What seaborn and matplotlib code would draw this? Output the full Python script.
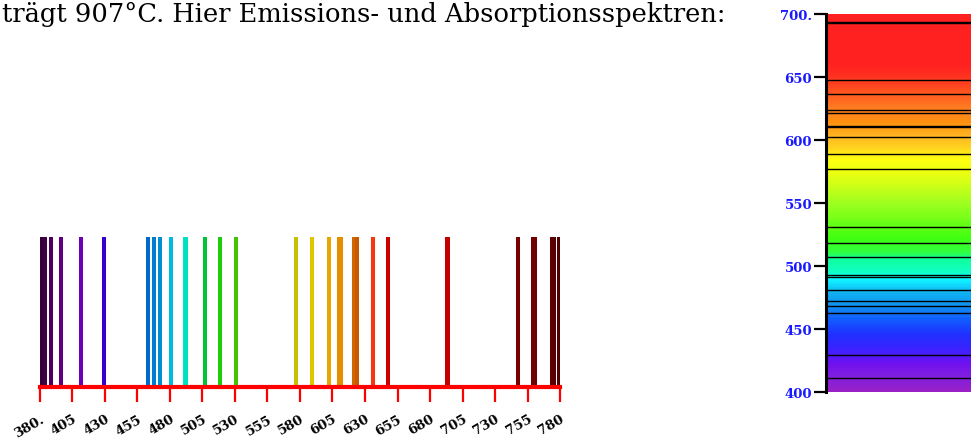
import numpy as np
import pandas as pd
import seaborn as sns
import matplotlib.pyplot as plt
from matplotlib.colors import LinearSegmentedColormap

# spectral lines (nm)
emission_nm = [380.5, 384.0, 388.2, 396.4, 411.3, 429.5, 462.9, 467.9, 472.1, 481.0,
               491.3, 492.6, 506.9, 518.2, 530.8, 577.3, 589.2, 602.1, 610.0, 611.2,
               621.5, 623.8, 636.3, 647.7, 692.8, 693.9, 747.7, 759.2, 760.6, 773.6,
               775.0, 779.0]
x_ticks = [380, 405, 430, 455, 480, 505, 530, 555, 580, 605, 630, 655, 680, 705, 730, 755, 780]
x_labels = ["380.", "405", "430", "455", "480", "505", "530", "555", "580", "605",
            "630", "655", "680", "705", "730", "755", "780"]
y_ticks = [400, 450, 500, 550, 600, 650, 700]
y_labels = ["400", "450", "500", "550", "600", "650", "700."]
title = "trägt 907°C. Hier Emissions- und Absorptionsspektren:"

# colour scales for the two spectra
line_anchors = [(380, "#380038"), (400, "#680090"), (415, "#7000c0"), (430, "#3000d0"),
                (455, "#0050c0"), (465, "#0070c8"), (475, "#00a0e0"), (490, "#00e8e0"),
                (505, "#00c040"), (520, "#20d000"), (535, "#50c000"), (575, "#c0c000"),
                (590, "#e0c800"), (605, "#e8a000"), (615, "#e08000"), (625, "#c85800"),
                (636, "#ff4010"), (645, "#c80000"), (700, "#c00000"), (740, "#800000"),
                (760, "#700000"), (780, "#500000")]
band_anchors = [(400, "#9a20c8"), (412, "#8020e0"), (422, "#7010f0"), (432, "#4020ff"),
                (445, "#2030ff"), (458, "#1060ff"), (468, "#1090f0"), (478, "#10b0f0"),
                (486, "#10e0ff"), (490, "#10ffff"), (496, "#10ffc0"), (505, "#10ffa0"),
                (511, "#30ff40"), (522, "#40ff10"), (550, "#a0ff20"), (575, "#f0ff10"),
                (585, "#ffff10"), (595, "#ffd020"), (605, "#ffb020"), (615, "#ff9010"),
                (625, "#ff8020"), (635, "#ff6020"), (645, "#ff4020"), (660, "#ff2020"),
                (700, "#ff2020")]


def make_cmap(anchors, lo, hi):
    pts = [((w - lo) / (hi - lo), c) for w, c in anchors]
    return LinearSegmentedColormap.from_list("spec", pts)


line_cmap = make_cmap(line_anchors, 380, 780)
band_cmap = make_cmap(band_anchors, 400, 700)

df = pd.DataFrame({"nm": emission_nm})
df["label"] = [str(v) for v in df["nm"]]
palette = {lab: line_cmap((v - 380) / 400) for lab, v in zip(df["label"], df["nm"])}
absorb_nm = [v for v in emission_nm if 400 <= v <= 700]

sns.set_theme(style="white")
plt.rcParams["font.family"] = ["DejaVu Serif", "DejaVu Sans"]

W, H = 971, 439
fig = plt.figure(figsize=(W / 100, H / 100), dpi=100)

# emission spectrum
ax = fig.add_axes([40 / W, (H - 388) / H, 520 / W, 150 / H])
sns.rugplot(data=df, x="nm", hue="label", palette=palette, height=1, linewidth=2.9,
            legend=False, expand_margins=False, ax=ax)
ax.set_xlim(380, 780)
ax.set_ylim(0, 1)
for s in ["top", "left", "right"]:
    ax.spines[s].set_visible(False)
ax.spines["bottom"].set_color("red")
ax.spines["bottom"].set_linewidth(3)
ax.spines["bottom"].set_zorder(5)
ax.set_yticks([])
ax.set_xticks(x_ticks)
ax.set_xticklabels(x_labels, rotation=30, ha="right", rotation_mode="anchor",
                   fontweight="bold", fontsize=9.5)
ax.tick_params(axis="x", direction="out", length=11, width=1.6, color="red",
               labelcolor="black", pad=7, bottom=True)
ax.set_xlabel("")
ax.set_ylabel("")

# absorption spectrum
ax2 = fig.add_axes([826 / W, (H - 393) / H, 0.3, 378 / H])
grid = np.arange(400, 700.5, 0.5)
img = band_cmap((grid - 400) / 300)[:, None, :3]
ax2.imshow(img, extent=[0, 1, 400, 700], origin="lower", aspect="auto", interpolation="nearest")
sns.rugplot(y=absorb_nm, height=1, color="black", linewidth=1.0,
            expand_margins=False, ax=ax2)
ax2.set_xlim(0, 1)
ax2.set_ylim(400, 700)
for s in ["top", "bottom", "right"]:
    ax2.spines[s].set_visible(False)
ax2.spines["left"].set_color("black")
ax2.spines["left"].set_linewidth(2.2)
ax2.set_xticks([])
ax2.set_yticks(y_ticks)
ax2.set_yticklabels(y_labels, fontweight="bold", fontsize=9.5, color="#1a1aff")
ax2.tick_params(axis="y", direction="out", length=9, width=1.6, color="black", left=True, pad=1)

fig.text(0.002, 1 - 22 / H, title, fontsize=18.5, color="black", ha="left", va="baseline",
         family=["DejaVu Serif", "DejaVu Sans"])

fig.savefig("out.png", dpi=100)
